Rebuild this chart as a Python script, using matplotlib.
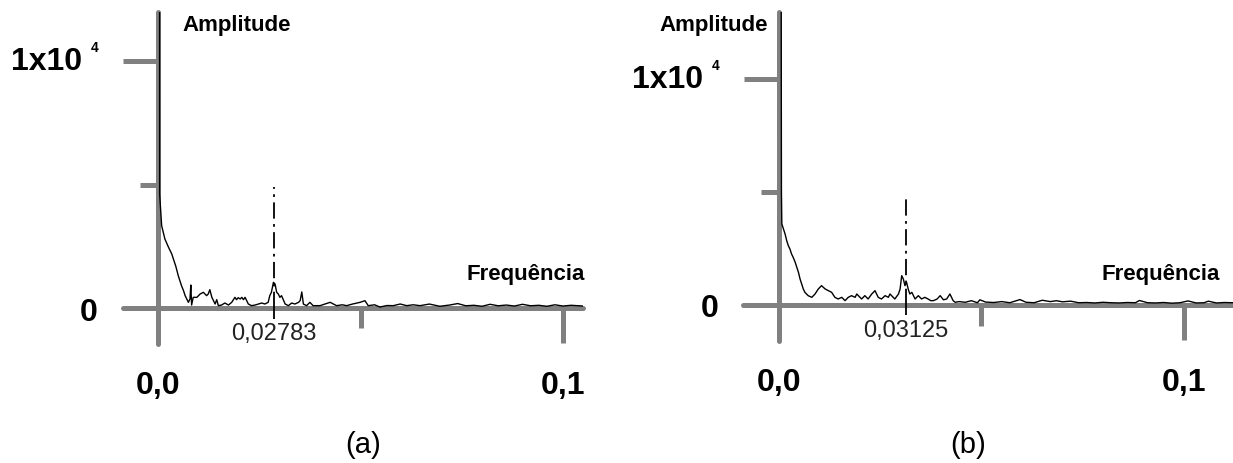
import matplotlib
matplotlib.use("Agg")
import matplotlib.pyplot as plt
from matplotlib.ticker import FixedLocator

plt.rcParams['font.family'] = ['Liberation Sans', 'DejaVu Sans']

# spectrum (a) - frequency / amplitude
freq_a = [0.0003, 0.0004, 0.0009, 0.0017, 0.0026, 0.0034, 0.0038, 0.0044, 0.0050, 0.0054,
          0.0058, 0.0063, 0.0067, 0.0071, 0.0075, 0.0079, 0.0081, 0.0083, 0.0087, 0.0096,
          0.0104, 0.0112, 0.0120, 0.0124, 0.0128, 0.0133, 0.0141, 0.0145, 0.0149, 0.0157,
          0.0165, 0.0174, 0.0182, 0.0190, 0.0194, 0.0198, 0.0203, 0.0207, 0.0211, 0.0215,
          0.0223, 0.0231, 0.0240, 0.0248, 0.0256, 0.0264, 0.0272, 0.0276, 0.0280, 0.0285,
          0.0289, 0.0293, 0.0297, 0.0301, 0.0305, 0.0314, 0.0322, 0.0330, 0.0338, 0.0347,
          0.0351, 0.0355, 0.0359, 0.0367, 0.0375, 0.0383, 0.0400, 0.0412, 0.0425, 0.0441,
          0.0455, 0.0466, 0.0480, 0.0499, 0.0511, 0.0519, 0.0535, 0.0548, 0.0565, 0.0581,
          0.0598, 0.0614, 0.0630, 0.0647, 0.0670, 0.0696, 0.0720, 0.0740, 0.0760, 0.0780,
          0.0800, 0.0820, 0.0840, 0.0860, 0.0880, 0.0900, 0.0920, 0.0940, 0.0960, 0.0980,
          0.1000, 0.1020, 0.1040, 0.1050]
amp_a = [50000, 4620, 3335, 2795, 2457, 2187, 1985, 1688, 1310, 1107,
         904, 702, 500, 365, 230, 365, 931, 121, 432, 432,
         567, 635, 500, 567, 742, 432, 162, 338, 95, 121,
         202, 121, 230, 432, 338, 418, 365, 432, 338, 432,
         162, 95, 121, 162, 202, 162, 230, 500, 635, 1040,
         972, 635, 567, 432, 500, 162, 95, 202, 162, 230,
         300, 650, 160, 95, 230, 95, 95, 160, 230, 95,
         130, 95, 160, 230, 297, 95, 130, 40, 100, 95,
         162, 95, 130, 95, 160, 70, 120, 180, 90, 110,
         70, 150, 90, 120, 80, 150, 90, 110, 70, 130,
         80, 110, 90, 80]

# spectrum (b)
freq_b = [0.0003, 0.0006, 0.0007, 0.0015, 0.0019, 0.0023, 0.0027, 0.0031, 0.0035, 0.0040,
          0.0044, 0.0048, 0.0052, 0.0056, 0.0060, 0.0064, 0.0068, 0.0072, 0.0081, 0.0089,
          0.0097, 0.0105, 0.0114, 0.0122, 0.0130, 0.0138, 0.0146, 0.0155, 0.0163, 0.0171,
          0.0179, 0.0188, 0.0192, 0.0204, 0.0212, 0.0220, 0.0229, 0.0237, 0.0245, 0.0253,
          0.0262, 0.0270, 0.0274, 0.0286, 0.0295, 0.0299, 0.0303, 0.0307, 0.0311, 0.0315,
          0.0319, 0.0323, 0.0328, 0.0336, 0.0344, 0.0352, 0.0360, 0.0368, 0.0375, 0.0381,
          0.0390, 0.0398, 0.0406, 0.0414, 0.0422, 0.0430, 0.0435, 0.0445, 0.0460, 0.0475,
          0.0490, 0.0496, 0.0510, 0.0530, 0.0550, 0.0570, 0.0595, 0.0610, 0.0630, 0.0650,
          0.0670, 0.0685, 0.0700, 0.0720, 0.0740, 0.0760, 0.0780, 0.0800, 0.0820, 0.0840,
          0.0860, 0.0880, 0.0890, 0.0910, 0.0930, 0.0950, 0.0970, 0.0990, 0.1010, 0.1030,
          0.1050, 0.1060, 0.1080, 0.1100, 0.1120]
amp_b = [50000, 5000, 3584, 3142, 2847, 2625, 2478, 2257, 2109, 1889,
         1667, 1446, 1150, 929, 708, 560, 487, 413, 339, 487,
         708, 856, 708, 634, 560, 339, 266, 339, 192, 339,
         413, 339, 487, 266, 413, 266, 487, 634, 339, 266,
         413, 339, 487, 266, 487, 708, 1298, 1150, 856, 1004,
         708, 487, 560, 266, 413, 266, 339, 266, 190, 192,
         260, 413, 230, 266, 487, 192, 120, 150, 120, 190,
         100, 230, 130, 110, 150, 100, 240, 120, 100, 210,
         150, 190, 140, 170, 100, 110, 90, 120, 100, 90,
         110, 100, 200, 100, 90, 110, 80, 100, 180, 90,
         100, 170, 90, 110, 100]

# marked peaks
peak_pos = [0.0287, 0.03125]
peak_labels = ['0,02783', '0,03125']
peak_top = [4900, 4900]

W, H = 1233, 464
grey = '#808080'

fig = plt.figure(figsize=(W / 100, H / 100), dpi=100)


def panel(box, xlim, ylim, freq, amp, pk, pk_label, pk_top, xminor_len):
    left, right, top, bottom = box
    ax = fig.add_axes([left / W, 1 - bottom / H, (right - left) / W, (bottom - top) / H])
    ax.set_xlim(xlim)
    ax.set_ylim(ylim)
    for s in ['top', 'right']:
        ax.spines[s].set_visible(False)
    for s in ['left', 'bottom']:
        ax.spines[s].set_position(('data', 0))
        ax.spines[s].set_color(grey)
        ax.spines[s].set_linewidth(3.6)
        ax.spines[s].set_capstyle('round')

    ax.set_yticks([0, 10000], labels=['0', ''], fontsize=23, fontweight='bold')
    ax.yaxis.set_minor_locator(FixedLocator([5000]))
    ax.set_xticks([0, 0.1], labels=['0,0', '0,1'], fontsize=23, fontweight='bold')
    ax.xaxis.set_minor_locator(FixedLocator([0.05]))
    ax.tick_params(which='major', direction='out', length=25.5, width=3.6, color=grey)
    ax.tick_params(axis='y', which='major', pad=18)
    ax.tick_params(axis='x', which='major', pad=19)
    ax.tick_params(axis='y', which='minor', direction='out', length=13, width=3.6, color=grey)
    ax.tick_params(axis='x', which='minor', direction='out', length=xminor_len, width=3.6, color=grey)

    # 1x10^4 label with its small exponent
    ax.annotate('1x10', xy=(0, 10000), xytext=(-76, 0), textcoords='offset pixels',
                ha='right', va='center', fontsize=23, fontweight='bold')
    ax.annotate('4', xy=(0, 10000), xytext=(-67, 14), textcoords='offset pixels',
                ha='left', va='center', fontsize=10, fontweight='bold')

    ax.plot(freq, amp, color='black', lw=1.0, zorder=3)

    # marker of the peak frequency
    ax.vlines(pk, 0, pk_top, color='black', lw=1.3, linestyles=(0, (9, 3, 1.5, 3)), zorder=3)
    ax.vlines(pk, -450, 0, color='black', lw=1.3, zorder=3)
    ax.annotate(pk_label, xy=(pk, 0), xytext=(0, -25), textcoords='offset pixels',
                ha='center', va='center', fontsize=17, color='#222222')
    return ax


panel((123, 583, 13, 345), (-0.008642, 0.104938), (-1457, 11984),
      freq_a, amp_a, peak_pos[0], peak_labels[0], peak_top[0], 14.4)
panel((743, 1233, 13, 342), (-0.008889, 0.112099), (-1593, 12965),
      freq_b, amp_b, peak_pos[1], peak_labels[1], peak_top[1], 15)

# axis names
fig.text(182 / W, 1 - 25 / H, 'Amplitude', ha='left', va='center', fontsize=16, fontweight='bold')
fig.text(768 / W, 1 - 25 / H, 'Amplitude', ha='right', va='center', fontsize=16, fontweight='bold')
fig.text(585 / W, 1 - 275 / H, 'Frequência', ha='right', va='center', fontsize=16, fontweight='bold')
fig.text(1220 / W, 1 - 275 / H, 'Frequência', ha='right', va='center', fontsize=16, fontweight='bold')

fig.text(363 / W, 1 - 445 / H, '(a)', ha='center', va='center', fontsize=21)
fig.text(968 / W, 1 - 445 / H, '(b)', ha='center', va='center', fontsize=21)

fig.savefig('out.png', dpi=100)
